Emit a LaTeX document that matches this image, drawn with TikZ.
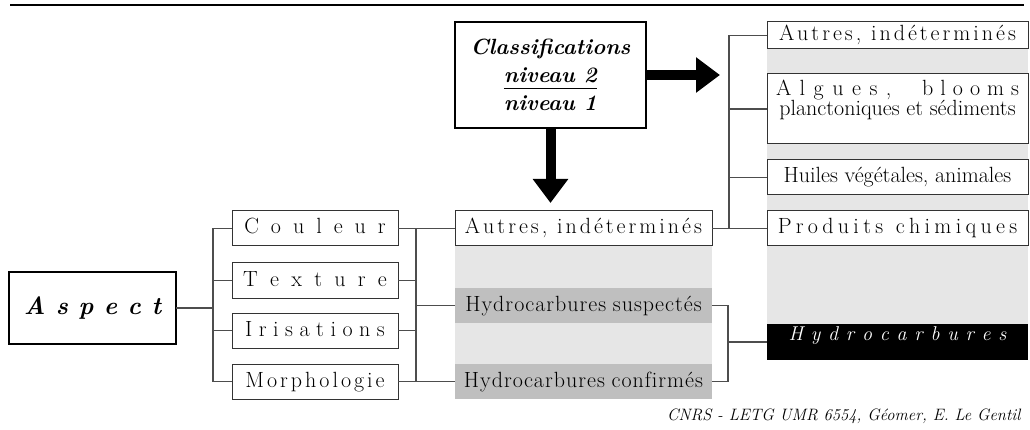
\documentclass[tikz,border=0pt]{standalone}
\usepackage{fontspec}
\usepackage{xcolor}
\usepackage{tikz}
\usetikzlibrary{arrows.meta, positioning, backgrounds}

\definecolor{lightgrey}{HTML}{E6E6E6}
\definecolor{midgrey}{HTML}{BFBFBF}
\definecolor{wiregrey}{HTML}{4D4D4D}

% letter spacing: \spaced{gap}{word}
\newcommand{\spaced}[2]{\def\lsgap{\hskip#1\relax}\lsfirst#2\relax}
\def\lsfirst#1{#1\lsnext}
\def\lsnext#1{\ifx\relax#1\else\lsgap#1\expandafter\lsnext\fi}

\begin{document}
\begin{tikzpicture}[
    x=1pt, y=-1pt,
    node distance=16pt,
    box/.style={rectangle, draw=black!80, line width=1pt, fill=white, inner sep=0pt, outer sep=0pt, minimum height=35pt, text height=15pt, text depth=4pt, anchor=north west, font=\fontsize{22}{25}\selectfont},
    leftbox/.style={box, minimum width=166pt},
    midbox/.style={box, minimum width=257pt},
    rightbox/.style={box, minimum width=261pt},
    hcbox/.style={midbox, draw=none, fill=midgrey},
    title/.style={rectangle, draw, line width=2pt, fill=white, inner sep=0pt, outer sep=0pt, anchor=north west, font=\fontsize{22}{28}\selectfont\bfseries\itshape, align=center},
    wire/.style={draw=wiregrey, line width=1.2pt},
    bigarrow/.style={line width=10pt, -{Triangle[length=24pt, width=34pt]}}
]
\useasboundingbox (0,0) rectangle (1030,430);

% Rule and credit
\draw[line width=1.5pt] (10,5) -- (1024,5);
\node[anchor=base east, font=\fontsize{16.5}{18}\selectfont\itshape] (credit) at (1024,420) {CNRS - LETG UMR 6554, Géomer, E. Le Gentil};

% Aspect and its criteria
\node[title, minimum width=167pt, minimum height=72pt, font=\fontsize{25}{28}\selectfont\bfseries\itshape] (aspect) at (9,272) {\spaced{10.5pt}{Aspect}};
\node[leftbox] (couleur) at (232,211) {\spaced{12pt}{Couleur}};
\node[leftbox, below=17pt of couleur] (texture) {\spaced{12.3pt}{Texture}};
\node[leftbox, below=15pt of texture] (irisations) {\spaced{6.5pt}{Irisations}};
\node[leftbox, below=of irisations] (morphologie) {\spaced{3pt}{Morphologie}};

% Level 1
\node[midbox] (autresM) at (455,211) {\spaced{3pt}{Autres,} \hspace{3pt}\spaced{3pt}{indéterminés}};
\node[hcbox, below=42pt of autresM] (suspectes) {\spaced{1pt}{Hydrocarbures} \spaced{1pt}{suspectés}};
\node[hcbox, below=41pt of suspectes] (confirmes) {\spaced{1pt}{Hydrocarbures} \spaced{1pt}{confirmés}};

% Legend box
\node[title, minimum width=191pt, minimum height=106pt] (classif) at (455,22) {Classifications\\\underline{niveau 2\vphantom{g}}\\niveau 1};

% Level 2
\node[rightbox, minimum height=27pt] (autresR) at (767,22) {\spaced{3pt}{Autres,} \hspace{3pt}\spaced{3pt}{indéterminés}};
\node[rightbox, minimum height=70pt, text height=42pt, text depth=28pt, below=25pt of autresR, align=center, font=\fontsize{22}{20}\selectfont] (algues) {\hbox to 243pt{\spaced{8.5pt}{Algues,}\hfill\spaced{7pt}{blooms}}\\planctoniques et sédiments};
\node[rightbox, below=of algues] (huiles) {Huiles végétales, animales};
\node[rightbox, below=of huiles] (produits) {\spaced{4.3pt}{Produits} \hspace{6pt}\spaced{4.3pt}{chimiques}};
\node[rightbox, draw=none, fill=black, text=white, minimum height=36pt, text height=11pt, text depth=14pt, below=78pt of produits, font=\fontsize{20}{22}\selectfont\itshape] (hydro) {\spaced{7.8pt}{Hydrocarbures}};

% Grey bands
\begin{scope}[on background layer]
\fill[lightgrey] (autresM.south west) rectangle (confirmes.south east);
\fill[lightgrey] (autresR.north west) rectangle (hydro.north east);
\end{scope}

% Big arrows
\coordinate[right=74pt of classif.east] (rtip);
\coordinate[below=75pt of classif.south] (dtip);
\draw[bigarrow] (classif.east) -- (rtip);
\draw[bigarrow] (classif.south) -- (dtip);

% Tree left
\coordinate[right=37pt of aspect.east] (jl);
\draw[wire] (aspect.east) -- (jl);
\draw[wire] (jl |- couleur.west) -- (jl |- morphologie.west);
\foreach \n in {couleur, texture, irisations, morphologie}
  \draw[wire] (\n.west) -- (jl |- \n.west);

% Tree to level 1
\coordinate[right=18pt of couleur.east] (jr);
\draw[wire] (jr) -- (jr |- morphologie.east);
\foreach \n in {couleur, texture, irisations, morphologie}
  \draw[wire] (\n.east) -- (jr |- \n.east);
\foreach \n in {autresM, suspectes, confirmes}
  \draw[wire] (jr |- \n.west) -- (\n.west);

% Tree to level 2
\coordinate[right=17pt of autresM.east] (jt);
\draw[wire] (autresM.east) -- (produits.west);
\draw[wire] (jt |- autresR.west) -- (jt);
\foreach \n in {autresR, algues, huiles}
  \draw[wire] (jt |- \n.west) -- (\n.west);

\coordinate[right=16pt of suspectes.east] (jh);
\draw[wire] (suspectes.east) -- (jh) -- (jh |- confirmes.east) -- (confirmes.east);
\draw[wire] (jh |- hydro.west) -- (hydro.west);

\end{tikzpicture}
\end{document}
